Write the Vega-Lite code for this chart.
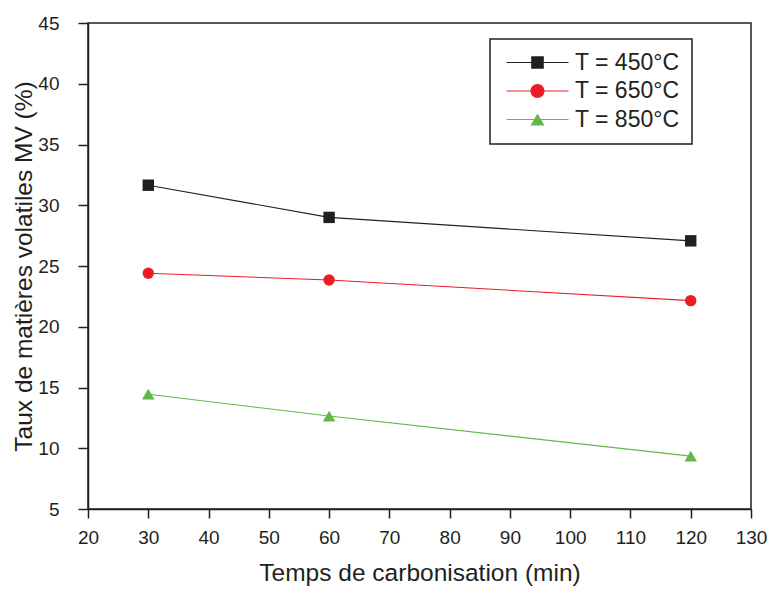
{
  "$schema": "https://vega.github.io/schema/vega-lite/v6.json",
  "width": 663,
  "height": 486,
  "autosize": {"type": "none"},
  "padding": {"left": 88, "top": 23, "right": 20, "bottom": 81},
  "background": "white",
  "config": {
    "font": "Liberation Sans",
    "view": {"stroke": "#231F20", "strokeWidth": 1.5},
    "axis": {
      "grid": false,
      "domainColor": "#231F20",
      "domainWidth": 1.5,
      "tickColor": "#231F20",
      "tickWidth": 1.5,
      "labelFont": "Liberation Sans",
      "labelFontSize": 19,
      "labelColor": "#231F20",
      "labelOverlap": false,
      "labelFlush": false,
      "titleFont": "Liberation Sans",
      "titleFontSize": 24.5,
      "titleFontWeight": "normal",
      "titleColor": "#231F20"
    },
    "legend": {
      "labelFont": "Liberation Sans",
      "labelFontSize": 23,
      "labelColor": "#231F20",
      "strokeColor": "#231F20",
      "strokeWidth": 1.5
    }
  },
  "data": {
    "values": [
      {"temps": 30, "mv": 31.65, "serie": "T = 450°C"},
      {"temps": 60, "mv": 29.0, "serie": "T = 450°C"},
      {"temps": 120, "mv": 27.07, "serie": "T = 450°C"},
      {"temps": 30, "mv": 24.4, "serie": "T = 650°C"},
      {"temps": 60, "mv": 23.85, "serie": "T = 650°C"},
      {"temps": 120, "mv": 22.15, "serie": "T = 650°C"},
      {"temps": 30, "mv": 14.45, "serie": "T = 850°C"},
      {"temps": 60, "mv": 12.65, "serie": "T = 850°C"},
      {"temps": 120, "mv": 9.35, "serie": "T = 850°C"}
    ]
  },
  "resolve": {"scale": {"shape": "independent", "color": "independent"}},
  "layer": [
    {
      "mark": {"type": "line", "strokeWidth": 1.1},
      "encoding": {
        "x": {
          "field": "temps",
          "type": "quantitative",
          "scale": {"domain": [20, 130], "nice": false, "zero": false},
          "axis": {
            "title": "Temps de carbonisation (min)",
            "values": [20, 25, 30, 35, 40, 45, 50, 55, 60, 65, 70, 75, 80, 85, 90, 95, 100, 105, 110, 115, 120, 125, 130],
            "labelExpr": "datum.value % 10 === 0 ? datum.label : ''",
            "tickSize": {"condition": {"test": "datum.value % 10 === 0", "value": 9}, "value": 5},
            "labelPadding": 10,
            "titlePadding": 14
          }
        },
        "y": {
          "field": "mv",
          "type": "quantitative",
          "scale": {"domain": [5, 45], "nice": false, "zero": false},
          "axis": {
            "title": "Taux de matières volatiles MV (%)",
            "values": [5, 7.5, 10, 12.5, 15, 17.5, 20, 22.5, 25, 27.5, 30, 32.5, 35, 37.5, 40, 42.5, 45],
            "labelExpr": "datum.value % 5 === 0 ? datum.label : ''",
            "tickSize": {"condition": {"test": "datum.value % 5 === 0", "value": 10}, "value": 6},
            "labelPadding": 19,
            "titlePadding": 1
          }
        },
        "color": {
          "field": "serie",
          "type": "nominal",
          "scale": {"domain": ["T = 450°C", "T = 650°C", "T = 850°C"], "range": ["#231F20", "#ED1C24", "#62B846"]},
          "legend": null
        }
      }
    },
    {
      "mark": {"type": "point", "filled": true, "opacity": 1, "size": 130, "strokeWidth": 0},
      "encoding": {
        "x": {"field": "temps", "type": "quantitative"},
        "y": {"field": "mv", "type": "quantitative"},
        "color": {
          "field": "serie",
          "type": "nominal",
          "scale": {"domain": ["T = 450°C", "T = 650°C", "T = 850°C"], "range": ["#231F20", "#ED1C24", "#62B846"]},
          "legend": null
        },
        "shape": {
          "field": "serie",
          "type": "nominal",
          "scale": {"domain": ["T = 450°C", "T = 650°C", "T = 850°C"], "range": ["square", "circle", "M0,-0.95 L1.1,0.95 L-1.1,0.95 Z"]},
          "legend": null
        }
      }
    },
    {
      "mark": {"type": "point", "filled": true, "opacity": 0, "size": 1, "strokeWidth": 0},
      "encoding": {
        "x": {"field": "temps", "type": "quantitative"},
        "y": {"field": "mv", "type": "quantitative"},
        "color": {
          "field": "serie",
          "type": "nominal",
          "scale": {"domain": ["T = 450°C", "T = 650°C", "T = 850°C"], "range": ["#231F20", "#ED1C24", "#62B846"]},
          "legend": {
            "title": null,
            "orient": "none",
            "legendX": 402,
            "legendY": 16,
            "padding": 12,
            "rowPadding": 4.5,
            "labelOffset": 50,
            "symbolSize": 400,
            "symbolOpacity": 1,
            "symbolStrokeWidth": 0
          }
        },
        "shape": {
          "field": "serie",
          "type": "nominal",
          "scale": {
            "domain": ["T = 450°C", "T = 650°C", "T = 850°C"],
            "range": [
              "M-0.7,-0.05 L5.5,-0.05 L5.5,0.05 L-0.7,0.05 Z M1.77,-0.63 L3.03,-0.63 L3.03,0.63 L1.77,0.63 Z",
              "M-0.7,-0.05 L5.5,-0.05 L5.5,0.05 L-0.7,0.05 Z M3.1,0 A0.7,0.7 0 1,1 1.7,0 A0.7,0.7 0 1,1 3.1,0 Z",
              "M-0.7,-0.05 L5.5,-0.05 L5.5,0.05 L-0.7,0.05 Z M2.4,-0.6 L3.1,0.6 L1.7,0.6 Z"
            ]
          },
          "legend": {
            "title": null,
            "orient": "none",
            "legendX": 402,
            "legendY": 16,
            "padding": 12,
            "rowPadding": 4.5,
            "labelOffset": 50,
            "symbolSize": 400,
            "symbolOpacity": 1,
            "symbolStrokeWidth": 0
          }
        }
      }
    }
  ]
}
